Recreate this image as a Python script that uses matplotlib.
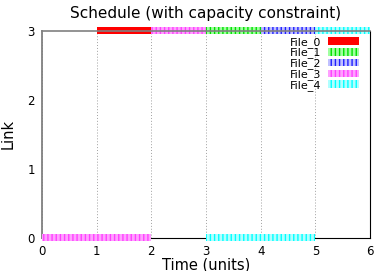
import matplotlib
matplotlib.use("Agg")
import matplotlib.pyplot as plt
from matplotlib.patches import Patch

files = ["File_0", "File_1", "File_2", "File_3", "File_4"]
colors = ["#ff0000", "#00e000", "#2020ff", "#ff40ff", "#00ffff"]
light = ["#ff0000", "#a0ffa0", "#c0c0ff", "#ffa0ff", "#b0ffff"]
hatches = ["", "||||", "||||", "||||", "||||"]

# (file index, link, start, end)
jobs = [
    (0, 3, 1, 2),
    (3, 3, 2, 3),
    (1, 3, 3, 4),
    (2, 3, 4, 5),
    (4, 3, 5, 6),
    (3, 0, 0, 2),
    (4, 0, 3, 5),
]

plt.rcParams["hatch.linewidth"] = 1.0
fig = plt.figure(figsize=(3.88, 2.71), dpi=100)
ax = fig.add_axes([0.108, 0.122, 0.846, 0.764])

for f, link, s, e in jobs:
    ax.broken_barh([(s, e - s)], (link - 0.05, 0.1), facecolor=light[f],
                   edgecolor=colors[f], hatch=hatches[f], linewidth=0,
                   clip_on=False, zorder=3)
ax.axhline(3, color="#808080", lw=1.2, zorder=4, clip_on=False)

ax.set_xlim(0, 6)
ax.set_ylim(0, 3)
ax.set_xticks(range(7))
ax.set_yticks(range(4))
ax.tick_params(direction="in", labelsize=8.5, length=0, pad=5)
ax.grid(axis="x", color="#a0a0a0", linestyle=(0, (1, 2)), lw=0.7)
ax.spines["top"].set_visible(False)
ax.spines["left"].set_color("#808080")
ax.spines["left"].set_linewidth(1.3)

ax.set_title("Schedule (with capacity constraint)", fontsize=11, pad=9)
ax.set_xlabel("Time (units)", fontsize=10.5, va="bottom")
ax.set_ylabel("Link", fontsize=10.5, va="top")
ax.xaxis.set_label_coords(0.5, -0.165)
ax.yaxis.set_label_coords(-0.125, 0.5)

handles = [Patch(facecolor=light[i], edgecolor=colors[i], hatch=hatches[i], lw=0)
           for i in range(len(files))]
ax.legend(handles, files, loc="upper right", bbox_to_anchor=(0.99, 1.01),
          frameon=False, markerfirst=False, fontsize=8, handlelength=2.8,
          handleheight=0.7, labelspacing=0.0, handletextpad=0.6,
          borderaxespad=0.3)

fig.savefig("out.png", dpi=100)
